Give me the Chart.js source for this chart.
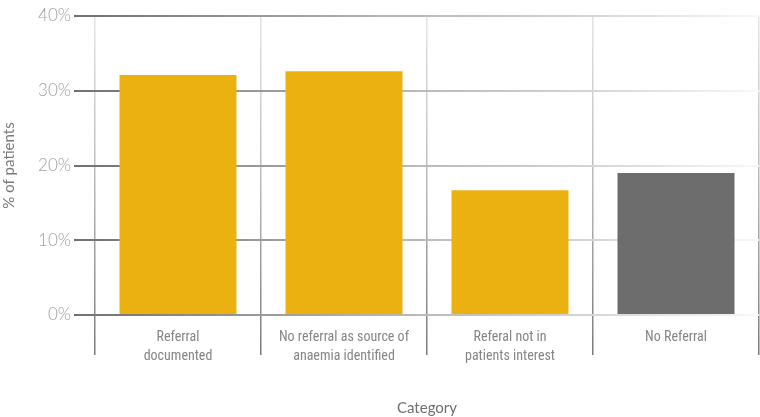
<!DOCTYPE html>
<html>
<head>
<meta charset="utf-8">
<script src="https://cdn.jsdelivr.net/npm/chart.js@4"></script>
<style>
  html, body { margin: 0; padding: 0; background: #fff; }
  #wrap { width: 760px; height: 417px; }
</style>
</head>
<body>
<div id="wrap"><canvas id="myChart" width="760" height="417"></canvas></div>
<script>
// chart data
const categories = [
    ['Referral', 'documented'],
    ['No referral as source of', 'anaemia identified'],
    ['Referal not in', 'patients interest'],
    'No Referral'
];
const percentPatients = [32.1, 32.6, 16.7, 19.0];
const barColors = ['#ebb111', '#ebb111', '#ebb111', '#6d6d6e'];
const yTicks = [0, 10, 20, 30, 40];

// fading grid lines, dark on the left / bottom
function hGridColor(ctx) {
    const chart = ctx.chart;
    const area = chart.chartArea;
    if (!area) return '#888';
    const g = chart.ctx.createLinearGradient(area.left - 22, 0, area.right, 0);
    g.addColorStop(0, '#707070');
    g.addColorStop(0.45, '#b4b4b4');
    g.addColorStop(0.75, '#d4d4d4');
    g.addColorStop(1, '#f8f8f8');
    return g;
}
function vGridColor(ctx) {
    const chart = ctx.chart;
    const area = chart.chartArea;
    if (!area) return '#888';
    const g = chart.ctx.createLinearGradient(0, area.top, 0, area.bottom + 40);
    g.addColorStop(0, '#e4e4e4');
    g.addColorStop(0.5, '#b8b8b8');
    g.addColorStop(1, '#7a7a7a');
    return g;
}

const ctx = document.getElementById('myChart').getContext('2d');
const myChart = new Chart(ctx, {
    type: 'bar',
    data: {
        labels: categories,
        datasets: [{
            label: '% of patients',
            data: percentPatients,
            backgroundColor: barColors,
            borderWidth: 0,
            barPercentage: 0.705,
            categoryPercentage: 1
        }]
    },
    options: {
        responsive: false,
        animation: false,
        layout: { padding: { top: 16, right: 1, left: 0, bottom: 0 } },
        plugins: {
            legend: { display: false },
            tooltip: { enabled: false }
        },
        scales: {
            x: {
                afterFit: scale => { scale.height = 102; },
                border: { display: false },
                grid: {
                    offset: true,
                    color: vGridColor,
                    lineWidth: 1.5,
                    tickLength: 40
                },
                ticks: {
                    padding: -27,
                    color: '#858585',
                    font: { family: "'Roboto Condensed', sans-serif", size: 14, lineHeight: 1.35 },
                    maxRotation: 0
                },
                title: {
                    display: true,
                    text: 'Category',
                    color: '#6e6e6e',
                    font: { family: 'Lato, sans-serif', size: 15 },
                    padding: { top: 0, bottom: 0 }
                }
            },
            y: {
                min: 0,
                max: 40,
                afterFit: scale => { scale.width = 95; },
                afterBuildTicks: scale => {
                    scale.ticks = yTicks.map(v => ({ value: v }));
                },
                border: { display: false },
                grid: {
                    color: hGridColor,
                    lineWidth: 2,
                    tickLength: 21
                },
                ticks: {
                    padding: 3,
                    color: '#a0a0a0',
                    font: { family: 'Lato, sans-serif', size: 17, weight: 300 },
                    callback: v => v + '%'
                },
                title: {
                    display: true,
                    text: '% of patients',
                    color: '#7a7a7a',
                    font: { family: 'Lato, sans-serif', size: 15 },
                    padding: { top: 0, bottom: 0 }
                }
            }
        }
    }
});
</script>
</body>
</html>
